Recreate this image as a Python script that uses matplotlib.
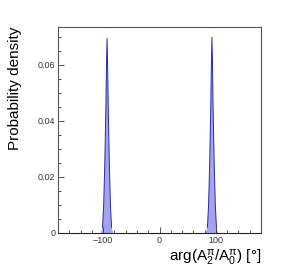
import numpy as np
import matplotlib.pyplot as plt

plt.rcParams['font.family'] = ['Liberation Sans', 'DejaVu Sans']
plt.rcParams['mathtext.fontset'] = 'custom'
plt.rcParams['mathtext.rm'] = 'Liberation Sans'
plt.rcParams['mathtext.it'] = 'Liberation Sans:italic'
plt.rcParams['hatch.color'] = 'white'
plt.rcParams['hatch.linewidth'] = 0.4

# density around the two solutions
x_left = [-104, -101, -99, -97, -95, -94, -93, -92, -91, -89, -87, -85, -82]
y_left = [0, 0.002, 0.010, 0.025, 0.046, 0.060, 0.0695, 0.060, 0.046, 0.025, 0.010, 0.002, 0]
x_right = [82, 85, 87, 89, 91, 92, 93, 94, 95, 97, 99, 101, 104]
y_right = [0, 0.002, 0.010, 0.025, 0.046, 0.060, 0.0698, 0.060, 0.046, 0.025, 0.010, 0.002, 0]

fig = plt.figure(figsize=(2.9, 2.75), dpi=100)
ax = fig.add_axes([58/290, 1-233/275, 203/290, 206/275])

for xs, ys in [(x_left, y_left), (x_right, y_right)]:
    ax.fill_between(xs, ys, color='#a4a4ea', hatch='....', linewidth=0)
    ax.plot(xs[1:-1], ys[1:-1], color='#2a2aa8', lw=0.7)

ax.set_xlim(-180, 180)
ax.set_ylim(0, 0.0735)
ax.set_xticks([-100, 0, 100])
ax.set_xticks(np.arange(-180, 181, 20), minor=True)
ax.set_yticks([0, 0.02, 0.04, 0.06])
ax.set_yticklabels(['0', '0.02', '0.04', '0.06'])
ax.set_yticks(np.arange(0, 0.073, 0.005), minor=True)
ax.tick_params(which='both', direction='in', labelsize=6.5, colors='#333333', pad=2)
ax.tick_params(which='major', length=4, width=0.6)
ax.tick_params(which='minor', length=2, width=0.6)
for s in ax.spines.values():
    s.set_linewidth(0.8)
    s.set_color('#555555')
ax.spines['bottom'].set_color('#222222')

fig.text(0.052, 1-88/275, 'Probability density', rotation=90, fontsize=11,
         ha='center', va='center')
fig.text(261/290, 1-258/275, r'arg($\mathregular{A_2^{\pi}/A_0^{\pi}}$) [°]',
         fontsize=11, ha='right', va='center')

fig.savefig('out.png', dpi=100)
